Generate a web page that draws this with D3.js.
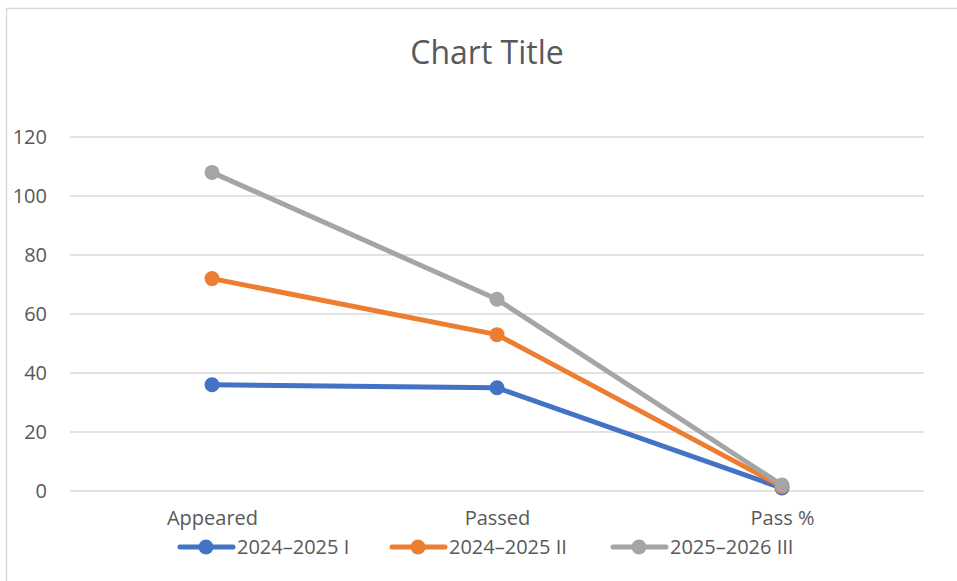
<!DOCTYPE html>
<html><head><meta charset="utf-8">
<script src="https://cdn.jsdelivr.net/npm/d3@7"></script>
<style>body{margin:0;background:#fff}svg{display:block}text{font-family:"Open Sans","Noto Sans",sans-serif}</style>
</head><body><svg id="c" width="957" height="581"></svg>
<script>
const categories = ["Appeared", "Passed", "Pass %"];
const seriesNames = ["2024\u20132025 I", "2024\u20132025 II", "2025\u20132026 III"];
const seriesColors = ["#4472c4", "#ed7d31", "#a5a5a5"];
const s1 = [36, 35, 1];
const s2 = [72, 53, 1.5];
const s3 = [108, 65, 2];
const yTicks = [0, 20, 40, 60, 80, 100, 120];
const seriesValues = [s1, s2, s3];

const svg = d3.select("#c");
svg.append("rect").attr("x", 6.5).attr("y", 8.5).attr("width", 970).attr("height", 600)
  .attr("fill", "#fff").attr("stroke", "#d9d9d9").attr("stroke-width", 1.5);

const x = d3.scalePoint().domain(categories).range([212, 782]);
const y = d3.scaleLinear().domain([0, 120]).range([491, 137]);
const left = 70, right = 924;

svg.append("text").attr("x", 487).attr("y", 64).attr("text-anchor", "middle")
  .attr("font-size", 32).attr("fill", "#595959").text("Chart Title");

svg.append("g").selectAll("line").data(yTicks).join("line")
  .attr("x1", left).attr("x2", right).attr("y1", d => y(d)).attr("y2", d => y(d))
  .attr("stroke", "#d9d9d9").attr("stroke-width", 1.3);

const yAxis = svg.append("g").attr("transform", `translate(${left},0)`)
  .call(d3.axisLeft(y).tickValues(yTicks).tickSize(0).tickPadding(23));
yAxis.select(".domain").remove();
yAxis.selectAll("text").attr("font-size", 20).attr("fill", "#595959")
  .attr("font-family", "'Open Sans','Noto Sans',sans-serif");

const xAxis = svg.append("g").attr("transform", `translate(0,${y(0)})`)
  .call(d3.axisBottom(x).tickSize(0).tickPadding(20));
xAxis.select(".domain").remove();
xAxis.selectAll("text").attr("font-size", 20).attr("fill", "#595959")
  .attr("font-family", "'Open Sans','Noto Sans',sans-serif");

const line = d3.line().x((d, i) => x(categories[i])).y(d => y(d));
seriesValues.forEach((vals, k) => {
  svg.append("path").datum(vals).attr("d", line).attr("fill", "none")
    .attr("stroke", seriesColors[k]).attr("stroke-width", 5).attr("stroke-linejoin", "round").attr("stroke-linecap", "round");
  svg.selectAll(null).data(vals).join("circle")
    .attr("cx", (d, i) => x(categories[i])).attr("cy", d => y(d)).attr("r", 7.5)
    .attr("fill", seriesColors[k]);
});

// legend
const legX = [180, 392, 613];
const legY = 547;
seriesNames.forEach((n, k) => {
  const lg = svg.append("g").attr("transform", `translate(${legX[k]},${legY})`);
  lg.append("line").attr("x1", 0).attr("x2", 53).attr("y1", 0).attr("y2", 0)
    .attr("stroke", seriesColors[k]).attr("stroke-width", 5).attr("stroke-linecap", "round");
  lg.append("circle").attr("cx", 26).attr("cy", 0).attr("r", 7.5).attr("fill", seriesColors[k]);
  lg.append("text").attr("x", 57).attr("y", 7).attr("font-size", 20).attr("fill", "#595959").text(n);
});
</script></body></html>
